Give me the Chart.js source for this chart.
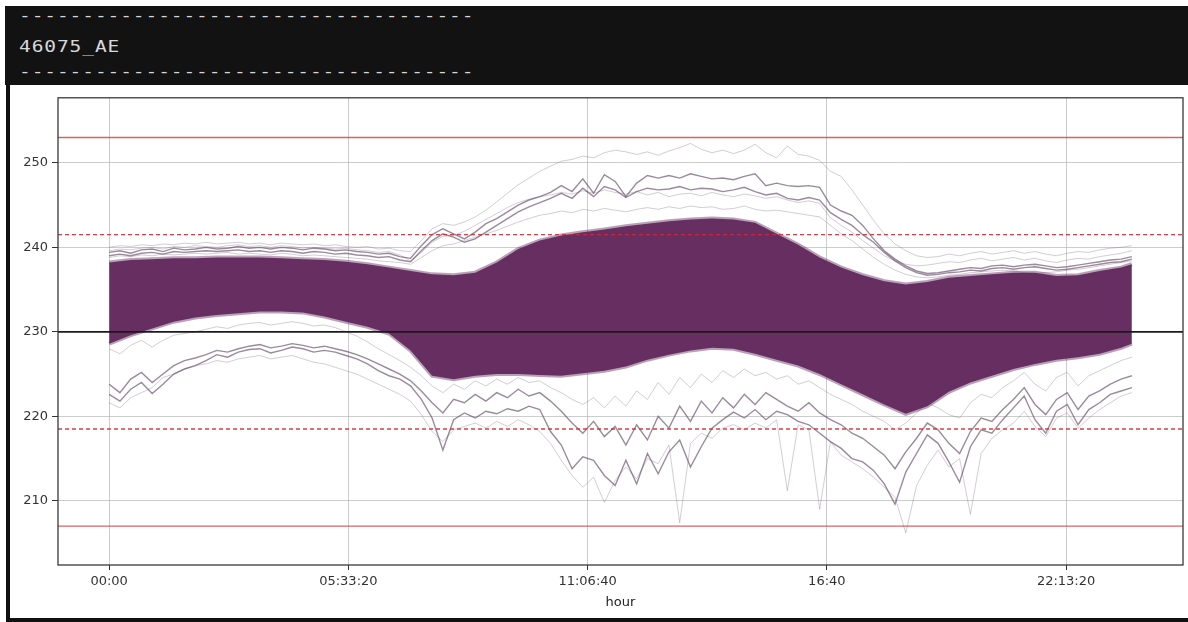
<!DOCTYPE html>
<html>
<head>
<meta charset="utf-8">
<script src="https://cdn.jsdelivr.net/npm/chart.js@4.4.1/dist/chart.umd.min.js"></script>
<style>
  html, body { margin: 0; padding: 0; background: #fff; }
  body { width: 1188px; height: 622px; position: relative; overflow: hidden; font-family: "DejaVu Sans", sans-serif; }
  #header { position: absolute; left: 5px; top: 6px; width: 1183px; height: 79px; background: #121212; }
  #header div { position: absolute; left: 14px; font-family: "DejaVu Sans Mono", monospace; font-size: 15px;
                letter-spacing: 0.7px; color: #d8d8d8; line-height: 20px; white-space: pre;
                transform: scaleX(1.3); transform-origin: left center; }
  #leftBar { position: absolute; left: 6px; top: 84px; width: 4px; height: 538px; background: #111; }
  #bottomBar { position: absolute; left: 6px; top: 618px; width: 1182px; height: 4px; background: #111; }
  #chartBox { position: absolute; left: 10px; top: 86px; width: 1178px; height: 531px; }
</style>
</head>
<body>
<div id="header">
  <div style="top: 0px;">------------------------------------</div>
  <div style="top: 31px;">46075_AE</div>
  <div style="top: 56px;">------------------------------------</div>
</div>
<div id="leftBar"></div>
<div id="bottomBar"></div>
<div id="chartBox"><canvas id="voltChart"></canvas></div>

<script>
// 15-minute sample times (seconds since midnight)
const times = [
    0, 900, 1800, 2700, 3600, 4500, 5400, 6300, 7200, 8100, 9000, 9900,
    10800, 11700, 12600, 13500, 14400, 15300, 16200, 17100, 18000, 18900, 19800, 20700,
    21600, 22500, 23400, 24300, 25200, 26100, 27000, 27900, 28800, 29700, 30600, 31500,
    32400, 33300, 34200, 35100, 36000, 36900, 37800, 38700, 39600, 40500, 41400, 42300,
    43200, 44100, 45000, 45900, 46800, 47700, 48600, 49500, 50400, 51300, 52200, 53100,
    54000, 54900, 55800, 56700, 57600, 58500, 59400, 60300, 61200, 62100, 63000, 63900,
    64800, 65700, 66600, 67500, 68400, 69300, 70200, 71100, 72000, 72900, 73800, 74700,
    75600, 76500, 77400, 78300, 79200, 80100, 81000, 81900, 82800, 83700, 84600, 85500
];

// dense band of profiles (half-hour edges)
const bandTimes = [
    0, 1800, 3600, 5400, 7200, 9000, 10800, 12600, 14400, 16200, 18000, 19800,
    21600, 23400, 25200, 27000, 28800, 30600, 32400, 34200, 36000, 37800, 39600, 41400,
    43200, 45000, 46800, 48600, 50400, 52200, 54000, 55800, 57600, 59400, 61200, 63000,
    64800, 66600, 68400, 70200, 72000, 73800, 75600, 77400, 79200, 81000, 82800, 84600, 85500
];
const bandTop = [
    238.2, 238.5, 238.6, 238.7, 238.7, 238.8, 238.8, 238.8, 238.7, 238.6, 238.5, 238.3,
    238.0, 237.6, 237.2, 236.8, 236.7, 237.0, 238.2, 239.8, 240.8, 241.4, 241.8, 242.1,
    242.5, 242.8, 243.1, 243.3, 243.4, 243.3, 242.9, 241.6, 240.3, 238.8, 237.6, 236.7,
    236.0, 235.6, 235.9, 236.4, 236.6, 236.8, 237.0, 237.0, 236.6, 236.7, 237.2, 237.6, 238.0
];
const bandBottom = [
    228.6, 229.6, 230.4, 231.2, 231.7, 232.0, 232.2, 232.4, 232.4, 232.3, 231.8, 231.2,
    230.6, 229.8, 227.8, 224.8, 224.4, 224.8, 225.0, 225.0, 224.9, 224.8, 225.1, 225.4,
    225.9, 226.7, 227.3, 227.8, 228.1, 228.0, 227.4, 226.7, 226.0, 225.0, 223.8, 222.6,
    221.4, 220.3, 221.2, 222.9, 224.0, 224.8, 225.6, 226.2, 226.7, 227.0, 227.4, 228.1, 228.6
];

// individual profiles that stand out above the band
const upperA = [
    239.4, 239.6, 239.3, 239.7, 239.8, 239.5, 239.9, 239.7, 239.8, 240.0, 239.8, 239.9, 240.1, 239.9, 240.0, 239.8, 240.0, 239.9, 239.7, 239.9, 239.8, 239.6, 239.7, 239.5,
    239.4, 239.2, 239.3, 238.9, 238.7, 240.2, 241.5, 242.2, 241.6, 241.0, 241.8, 242.8, 243.4, 244.2, 245.0, 245.6, 246.0, 246.5, 247.3, 246.6, 248.1, 246.4, 248.6, 247.8,
    246.0, 247.6, 248.5, 248.2, 248.5, 248.2, 248.7, 248.4, 248.1, 248.2, 248.0, 248.4, 248.7, 247.3, 247.6, 247.3, 247.2, 247.3, 247.1, 245.0, 244.3, 243.8, 242.6, 241.0,
    239.6, 238.6, 237.8, 237.2, 236.9, 237.0, 237.2, 237.4, 237.6, 237.5, 237.8, 237.9, 237.7, 237.9, 238.0, 237.8, 237.6, 237.7, 237.9, 238.1, 238.3, 238.5, 238.6, 238.9
];
const upperB = [
    239.0, 239.2, 239.0, 239.3, 239.4, 239.2, 239.5, 239.4, 239.5, 239.6, 239.5, 239.6, 239.7, 239.5, 239.6, 239.4, 239.6, 239.5, 239.3, 239.5, 239.4, 239.2, 239.3, 239.1,
    239.0, 238.8, 238.9, 238.5, 238.3, 239.6, 240.8, 241.6, 241.2, 240.6, 241.0, 241.8, 242.6, 243.4, 244.2, 244.8, 245.3, 245.8, 246.4, 245.8, 247.0, 246.0, 247.2, 246.8,
    245.9, 246.6, 247.0, 246.8, 246.9, 247.2, 246.8, 247.0, 246.9, 246.6, 246.8, 247.1, 246.6, 246.2, 246.4, 245.8, 245.6, 245.9, 245.6, 244.1, 243.3, 242.6, 241.5, 240.6,
    239.4, 238.4, 237.6, 237.0, 236.7, 236.8, 237.0, 237.1, 237.3, 237.2, 237.5, 237.6, 237.4, 237.6, 237.7, 237.5, 237.3, 237.4, 237.6, 237.8, 238.0, 238.2, 238.3, 238.6
];
const upperC = [
    240.0, 240.2, 240.1, 240.3, 240.2, 240.4, 240.3, 240.5, 240.4, 240.6, 240.4, 240.5, 240.6, 240.4, 240.5, 240.3, 240.5, 240.4, 240.3, 240.4, 240.2, 240.3, 240.1, 240.0,
    240.1, 239.8, 239.9, 239.6, 239.5, 240.8, 242.2, 242.8, 242.6, 243.0, 243.6, 244.4, 245.4, 246.4, 247.4, 248.2, 249.0, 249.6, 250.2, 250.4, 250.8, 250.6, 251.2, 251.5,
    251.3, 251.0, 251.3, 250.9, 251.4, 251.8, 252.3, 251.6, 251.2, 251.5, 251.1, 251.5, 252.2, 251.2, 250.6, 252.0, 251.0, 250.8, 250.3, 249.0, 248.4, 246.8, 245.0, 243.2,
    241.6, 240.4, 239.6, 239.0, 238.8, 238.9, 239.2, 239.0, 239.3, 239.5, 239.2, 239.4, 239.6, 239.3, 239.5, 239.2, 239.0, 239.3, 239.5, 239.4, 239.7, 239.9, 240.0, 240.2
];
const upperD = [
    238.8, 239.0, 238.9, 239.1, 239.0, 239.2, 239.1, 239.2, 239.3, 239.2, 239.3, 239.4, 239.2, 239.3, 239.2, 239.1, 239.3, 239.2, 239.0, 239.1, 239.0, 238.9, 238.8, 238.7,
    238.6, 238.4, 238.3, 238.2, 238.0, 238.8, 239.6, 240.2, 240.4, 240.8, 241.2, 241.6, 242.0, 242.5, 243.0, 243.4, 243.8, 244.0, 244.3, 244.1, 244.5, 244.3, 244.6, 244.4,
    244.2, 244.5, 244.7, 244.5, 244.8, 244.6, 244.9, 244.7, 244.8, 244.5, 244.6, 244.9, 244.5, 244.3, 244.4, 244.2, 244.0, 243.8, 243.6, 242.6, 241.6, 240.8, 239.8, 238.8,
    238.0, 237.3, 236.8, 236.5, 236.4, 236.5, 236.7, 236.8, 237.0, 237.1, 237.2, 237.3, 237.2, 237.0, 236.9, 237.0, 237.1, 237.3, 237.4, 237.6, 237.8, 238.0, 238.2, 238.4
];
const upperE = [
    239.6, 239.8, 239.7, 239.9, 240.0, 239.8, 240.1, 240.0, 240.2, 240.1, 240.0, 240.2, 240.3, 240.1, 240.2, 240.0, 240.2, 240.1, 239.9, 240.0, 239.9, 239.8, 239.9, 239.7,
    239.6, 239.4, 239.5, 239.1, 238.4, 239.4, 240.6, 241.3, 241.4, 241.9, 242.6, 243.3, 244.0, 244.7, 245.3, 245.7, 246.0, 246.2, 246.5, 246.3, 246.7, 246.4, 246.8, 246.5,
    246.3, 246.6, 246.2, 246.5, 246.0, 246.3, 246.4, 246.1, 246.5, 246.2, 246.0, 246.3, 246.1, 245.8, 246.0, 245.6, 245.3, 245.5, 245.2, 243.5, 242.6, 241.8, 240.8, 239.9,
    239.0, 238.4, 238.0, 237.8, 237.9, 238.1, 238.3, 238.2, 238.5, 238.7, 238.4, 238.6, 238.8, 238.5, 238.7, 238.4, 238.2, 238.5, 238.7, 238.6, 238.9, 239.1, 239.3, 239.6
];

// individual profiles that stand out below the band
const lowerA = [
    222.6, 221.8, 223.2, 224.0, 222.7, 223.8, 225.0, 225.6, 226.0, 226.6, 227.3, 227.0, 227.6, 227.9, 228.0, 227.5, 227.8, 228.2, 228.0, 227.6, 227.8, 227.6, 227.2, 226.8,
    226.2, 225.4, 224.8, 224.4, 223.6, 222.0, 219.8, 216.0, 219.6, 220.4, 219.8, 220.6, 220.3, 220.9, 220.6, 221.2, 220.8, 218.2, 216.6, 213.8, 215.2, 214.8, 213.0, 211.8,
    214.8, 212.0, 215.6, 213.2, 215.8, 217.2, 214.0, 216.4, 218.6, 219.6, 220.5, 219.8, 220.8, 219.6, 220.6, 220.2, 219.4, 219.0, 218.0, 217.0, 216.2, 215.0, 214.6, 213.6,
    212.0, 209.6, 213.4, 215.6, 217.8, 216.8, 214.6, 212.2, 216.4, 218.4, 218.0, 219.6, 221.0, 222.4, 219.6, 218.0, 220.6, 221.4, 219.0, 220.8, 221.6, 222.6, 223.0, 223.4
];
const lowerB = [
    223.8, 222.8, 224.4, 225.2, 224.0, 225.0, 226.0, 226.6, 226.9, 227.3, 227.8, 227.6, 228.0, 228.3, 228.5, 228.1, 228.3, 228.6, 228.4, 228.1, 228.3, 228.0, 227.7, 227.3,
    226.8, 226.2, 225.6, 225.0, 224.2, 223.0, 221.6, 220.4, 222.0, 221.6, 222.6, 221.8, 222.8, 222.2, 223.2, 222.4, 222.8, 221.8, 220.6, 219.2, 218.0, 219.4, 217.6, 218.8,
    216.6, 219.0, 217.2, 220.0, 218.6, 221.2, 219.4, 221.8, 220.4, 222.2, 221.0, 222.6, 221.4, 222.8, 222.0, 221.2, 220.6, 221.6, 220.4, 219.6, 219.0, 218.0, 217.4, 216.4,
    215.4, 213.8, 215.8, 217.4, 219.2, 218.4, 216.8, 215.6, 218.2, 219.8, 219.4, 220.8, 222.0, 223.4, 221.4, 220.2, 222.0, 222.8, 220.8, 222.4, 223.0, 223.8, 224.4, 224.8
];
const lowerC = [
    228.0, 227.4, 228.4, 229.0, 228.2, 229.0, 229.6, 229.8, 230.0, 230.3, 230.6, 230.4, 230.8, 231.0, 231.1, 230.8, 231.0, 231.2, 231.0, 230.7, 230.8, 230.5, 230.0, 229.5,
    228.8, 228.0, 227.3, 226.6, 225.8, 224.8, 223.6, 222.8, 223.8, 223.2, 224.2, 223.6, 224.4, 223.8, 224.6, 224.0, 224.2, 223.4, 222.8, 222.0, 221.4, 222.2, 221.0, 222.4,
    221.2, 223.0, 222.0, 224.0, 222.6, 224.6, 223.4, 225.0, 224.0, 225.4, 224.6, 225.6, 224.8, 225.2, 224.4, 224.8, 223.8, 224.2, 223.4, 222.6, 222.0, 221.4, 220.6, 220.0,
    219.4, 218.4, 219.2, 220.4, 221.6, 221.0, 220.2, 219.8, 221.6, 222.6, 222.2, 223.4, 224.2, 225.2, 223.8, 223.0, 224.6, 225.2, 223.6, 224.8, 225.4, 226.0, 226.6, 227.0
];
const lowerD = [
    221.6, 221.0, 222.2, 222.8, 223.4, 224.6, 225.0, 225.6, 226.0, 226.2, 226.6, 226.4, 226.8, 227.0, 227.2, 226.8, 227.0, 227.2, 226.8, 226.4, 226.2, 225.8, 225.4, 225.0,
    224.4, 223.8, 223.2, 222.6, 221.8, 220.2, 218.2, 217.0, 218.4, 218.8, 219.2, 218.6, 219.4, 218.8, 219.6, 219.0, 218.2, 216.8, 214.8, 213.0, 211.6, 212.8, 209.8, 212.4,
    214.0, 212.6, 215.0, 214.4, 216.6, 207.4, 216.8, 218.0, 217.4, 218.6, 219.0, 218.4, 219.2, 218.6, 219.6, 211.2, 219.0, 218.4, 209.0, 217.0, 215.4, 214.6, 213.8, 212.8,
    211.6, 210.4, 206.2, 211.8, 214.2, 216.0, 214.0, 215.0, 208.4, 215.6, 217.4, 218.4, 219.2, 220.6, 218.8, 217.6, 219.8, 220.4, 218.6, 219.8, 220.8, 221.6, 222.4, 222.8
];

// limits and axis
const nominal = 230;
const limitSolid = [253, 207];
const limitDashed = [241.5, 218.5];
const xLimits = [-4275, 89775];
const yLimits = [202.4, 257.7];
const xTickValues = [0, 20000, 40000, 60000, 80000];
const xTickLabels = ["00:00", "05:33:20", "11:06:40", "16:40", "22:13:20"];
const yTickValues = [210, 220, 230, 240, 250];

const PURPLE = "rgb(103, 46, 98)";

function toPoints(xs, ys) {
    return xs.map((x, i) => ({ x: x, y: ys[i] }));
}

function profile(values, strong) {
    return {
        data: toPoints(times, values),
        borderColor: strong ? "rgba(92, 66, 96, 0.62)" : "rgba(120, 96, 126, 0.32)",
        borderWidth: strong ? 1.4 : 1,
        order: strong ? 3 : 4,
        fill: false
    };
}

function hline(value, color, width, dash) {
    return {
        data: [{ x: xLimits[0], y: value }, { x: xLimits[1], y: value }],
        borderColor: color,
        borderWidth: width,
        borderDash: dash,
        order: 0,
        fill: false
    };
}

const datasets = [
    profile(upperC, false),
    profile(upperE, false),
    profile(upperD, false),
    profile(upperA, true),
    profile(upperB, true),
    profile(lowerD, false),
    profile(lowerC, false),
    profile(lowerA, true),
    profile(lowerB, true),
    {
        data: toPoints(bandTimes, bandBottom),
        borderColor: "rgba(103, 46, 98, 0.45)",
        borderWidth: 4,
        order: 1,
        fill: false
    },
    {
        data: toPoints(bandTimes, bandTop),
        borderColor: "rgba(103, 46, 98, 0.45)",
        borderWidth: 4,
        backgroundColor: PURPLE,
        order: 1,
        fill: "-1"
    },
    hline(limitSolid[0], "rgba(214, 70, 70, 0.85)", 1.3, []),
    hline(limitSolid[1], "rgba(214, 70, 70, 0.85)", 1.3, []),
    hline(limitDashed[0], "rgba(214, 40, 50, 0.9)", 1.3, [4, 3]),
    hline(limitDashed[1], "rgba(214, 40, 50, 0.9)", 1.3, [4, 3]),
    hline(nominal, "#1a1a1a", 1.8, [])
];

// axes frame like matplotlib spines
const framePlugin = {
    id: "frame",
    afterDraw(chart) {
        const a = chart.chartArea;
        const ctx = chart.ctx;
        ctx.save();
        ctx.strokeStyle = "#3a3a3a";
        ctx.lineWidth = 1.3;
        ctx.strokeRect(a.left, a.top, a.right - a.left, a.bottom - a.top);
        ctx.restore();
    }
};

new Chart(document.getElementById("voltChart"), {
    type: "line",
    data: { datasets: datasets },
    options: {
        responsive: true,
        maintainAspectRatio: false,
        animation: false,
        events: [],
        layout: { padding: { top: 9, right: 5, left: 0, bottom: 0 } },
        elements: { point: { radius: 0 }, line: { tension: 0 } },
        plugins: { legend: { display: false }, tooltip: { enabled: false } },
        scales: {
            x: {
                type: "linear",
                min: xLimits[0],
                max: xLimits[1],
                z: 1,
                afterBuildTicks: (scale) => { scale.ticks = xTickValues.map(v => ({ value: v })); },
                afterFit: (scale) => { scale.height = 52; },
                ticks: {
                    autoSkip: false,
                    maxRotation: 0,
                    padding: 4,
                    color: "#333",
                    font: { family: "DejaVu Sans", size: 13 },
                    callback: (value) => xTickLabels[xTickValues.indexOf(value)]
                },
                grid: { color: "rgba(170, 170, 170, 0.6)", lineWidth: 1, tickLength: 5, tickColor: "#333" },
                border: { display: false },
                title: {
                    display: true,
                    text: "hour",
                    color: "#222",
                    font: { family: "DejaVu Sans", size: 13 },
                    padding: { top: 0, bottom: 7 }
                }
            },
            y: {
                min: yLimits[0],
                max: yLimits[1],
                z: 1,
                afterBuildTicks: (scale) => { scale.ticks = yTickValues.map(v => ({ value: v })); },
                afterFit: (scale) => { scale.width = 48; },
                ticks: {
                    padding: 4,
                    color: "#333",
                    font: { family: "DejaVu Sans", size: 13 }
                },
                grid: { color: "rgba(170, 170, 170, 0.6)", lineWidth: 1, tickLength: 6, tickColor: "#333" },
                border: { display: false }
            }
        }
    },
    plugins: [framePlugin]
});
</script>
</body>
</html>
